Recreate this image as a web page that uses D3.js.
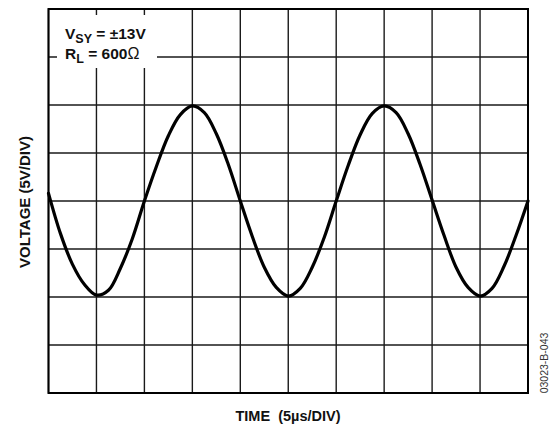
<!DOCTYPE html>
<html>
<head>
<meta charset="utf-8">
<script src="https://cdn.jsdelivr.net/npm/d3@7"></script>
<style>
  html, body { margin: 0; padding: 0; background: #fff; }
  text { font-family: "Liberation Sans", Arial, sans-serif; }
</style>
</head>
<body>
<svg id="chart" width="550" height="425"></svg>
<script>
// ---- Data ----
// time in microseconds (5 µs per division, 10 divisions)
const timeUs = [0,1.25,2.5,3.75,5,6.25,7.5,8.75,10,11.25,12.5,13.75,15,16.25,17.5,18.75,20,
  21.25,22.5,23.75,25,26.25,27.5,28.75,30,31.25,32.5,33.75,35,36.25,37.5,38.75,40,
  41.25,42.5,43.75,45,46.25,47.5,48.75,50];
// voltage in volts (5 V per division, 8 divisions)
const voltage = [0.8,-3.4,-6.6,-8.7,-9.8,-9.3,-7.0,-3.9,0.0,3.6,6.8,9.0,9.9,9.2,7.0,3.8,0.0,
  -3.7,-6.9,-9.0,-9.9,-9.1,-6.9,-3.8,0.0,3.7,6.9,9.1,9.9,9.2,7.0,3.8,0.1,
  -3.6,-6.9,-9.0,-9.9,-9.1,-6.8,-3.6,0.0];
const xGridTicks = [0,5,10,15,20,25,30,35,40,45,50];
const yGridTicks = [-20,-15,-10,-5,0,5,10,15,20];
const xLabel = "TIME  (5µs/DIV)";
const yLabel = "VOLTAGE (5V/DIV)";
const figCode = "03023-B-043";

// ---- Layout ----
const svg = d3.select("#chart");
const L = 48.5, R = 528, T = 9, B = 393;
const x = d3.scaleLinear().domain([0, 50]).range([L, R]);
const y = d3.scaleLinear().domain([-20, 20]).range([B, T]);

// grid lines
const grid = svg.append("g");
grid.selectAll("line.v").data(xGridTicks).join("line")
  .attr("x1", d => x(d)).attr("x2", d => x(d))
  .attr("y1", T).attr("y2", B)
  .attr("stroke", "#1a1a1a").attr("stroke-width", 1.4);
grid.selectAll("line.h").data(yGridTicks).join("line")
  .attr("y1", d => y(d)).attr("y2", d => y(d))
  .attr("x1", L).attr("x2", R)
  .attr("stroke", "#1a1a1a").attr("stroke-width", 1.4);

// legend mask
svg.append("rect").attr("x", 57).attr("y", 15).attr("width", 100).attr("height", 53)
  .attr("fill", "#fff");

// frame
svg.append("rect").attr("x", L).attr("y", T).attr("width", R - L).attr("height", B - T)
  .attr("fill", "none").attr("stroke", "#000").attr("stroke-width", 2);

// waveform
const line = d3.line().x((d, i) => x(timeUs[i])).y(d => y(d)).curve(d3.curveCatmullRom.alpha(0.5));
svg.append("path").datum(voltage).attr("d", line)
  .attr("fill", "none").attr("stroke", "#000").attr("stroke-width", 3.2)
  .attr("stroke-linejoin", "round").attr("stroke-linecap", "round");

// legend text
const t1 = svg.append("text").attr("x", 65).attr("y", 39)
  .attr("font-size", 15.5).attr("font-weight", "bold").attr("fill", "#111");
t1.append("tspan").text("V");
t1.append("tspan").attr("font-size", 12.5).attr("dy", 4).text("SY");
t1.append("tspan").attr("dy", -4).text(" = \u00B113V");
const t2 = svg.append("text").attr("x", 65).attr("y", 58.5)
  .attr("font-size", 15.5).attr("font-weight", "bold").attr("fill", "#111");
t2.append("tspan").text("R");
t2.append("tspan").attr("font-size", 12.5).attr("dy", 4).text("L");
t2.append("tspan").attr("dy", -4).text(" = 600");
t2.append("tspan").attr("font-weight", "normal").attr("font-size", 16).text("\u03A9");

// axis labels
svg.append("text").attr("x", 288).attr("y", 421).attr("text-anchor", "middle")
  .attr("font-size", 14.5).attr("font-weight", "bold").attr("fill", "#111")
  .style("white-space", "pre").text(xLabel);
svg.append("text").attr("transform", "translate(29.5,202) rotate(-90)")
  .attr("text-anchor", "middle")
  .attr("font-size", 15).attr("font-weight", "bold").attr("fill", "#111").text(yLabel);
svg.append("text").attr("transform", "translate(547.5,363) rotate(-90)")
  .attr("text-anchor", "middle")
  .attr("font-size", 10.5).attr("fill", "#333").text(figCode);
</script>
</body>
</html>
